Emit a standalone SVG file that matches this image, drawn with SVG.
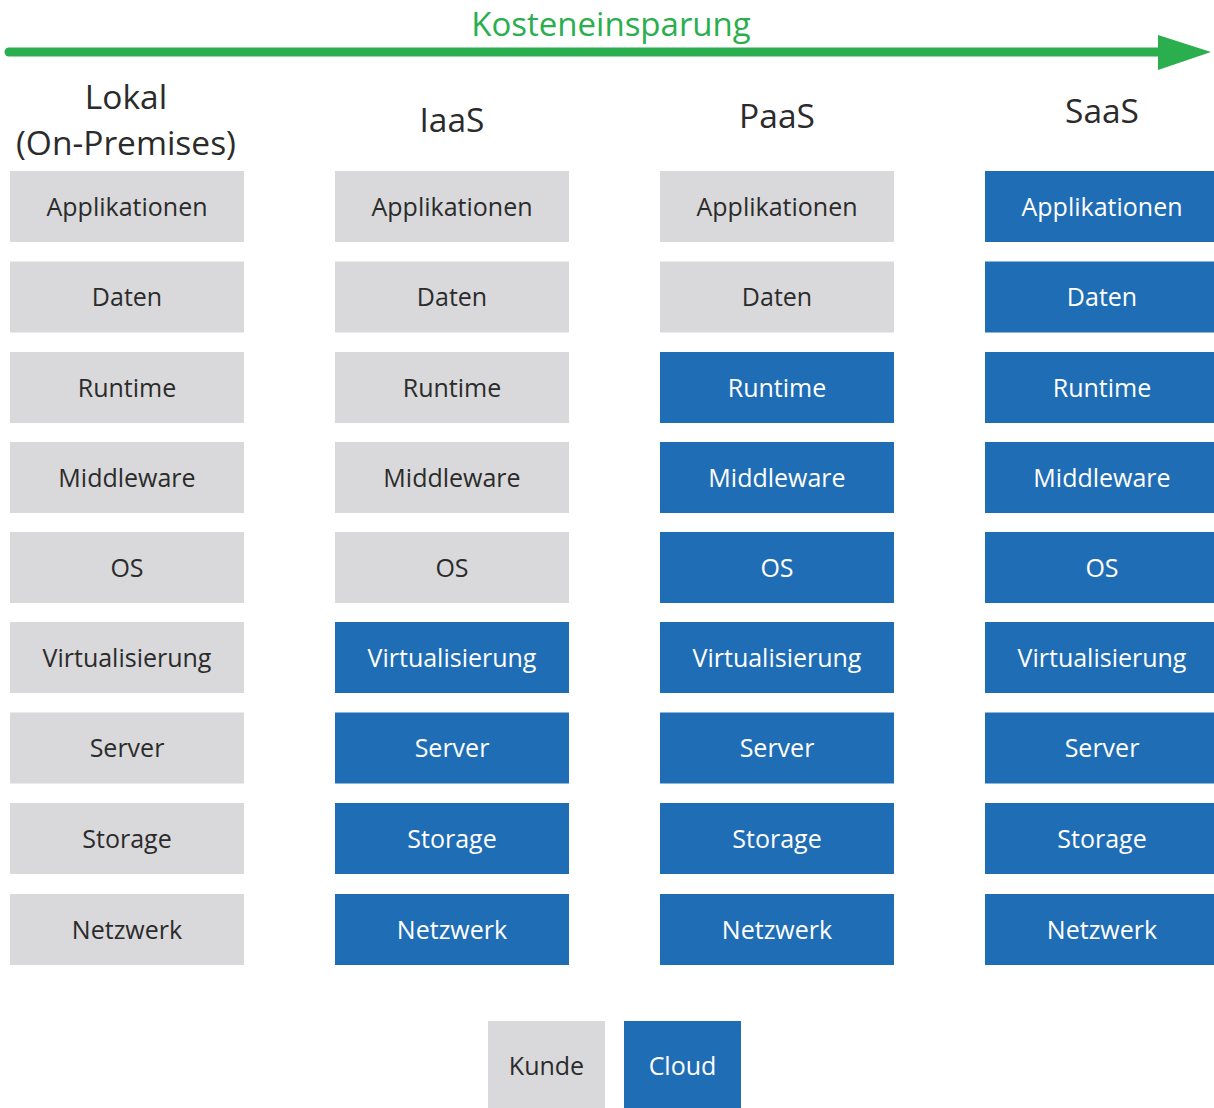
<svg xmlns="http://www.w3.org/2000/svg" width="1214" height="1108" viewBox="0 0 1214 1108">
  <style>
    .k { fill: #d9d9db; }
    .c { fill: #1f6db5; }
    .t { font-family: "Open Sans", "Liberation Sans", sans-serif; font-size: 25px; text-anchor: middle; dominant-baseline: central; }
    .tk { fill: #2b2b2b; }
    .tc { fill: #ffffff; }
    .h { font-family: "Open Sans", "Liberation Sans", sans-serif; font-size: 33.5px; fill: #2b2b2b; text-anchor: middle; }
  </style>
  <rect width="1214" height="1108" fill="#ffffff"/>

  <!-- cost saving axis -->
  <g id="axis">
    <line x1="9" y1="52" x2="1162" y2="52" stroke="#2aae4e" stroke-width="9" stroke-linecap="round"/>
    <polygon points="1158,35 1211,52 1158,70" fill="#2aae4e"/>
    <text x="611" y="36" font-family="Open Sans, Liberation Sans, sans-serif" font-size="33" fill="#2aae4e" text-anchor="middle">Kosteneinsparung</text>
  </g>

  <!-- column headers -->
  <g id="headers">
    <text class="h" x="126" y="109">Lokal</text>
    <text class="h" x="126" y="155">(On-Premises)</text>
    <text class="h" x="452" y="132">IaaS</text>
    <text class="h" x="777" y="128">PaaS</text>
    <text class="h" x="1102" y="123">SaaS</text>
  </g>

  <!-- Lokal (On-Premises) -->
  <g id="col-lokal">
    <g id="lokal-applikationen"><rect class="k" x="10" y="171" width="234" height="71"/><text class="t tk" x="127" y="205.5">Applikationen</text></g>
    <g id="lokal-daten"><rect class="k" x="10" y="261.5" width="234" height="71"/><text class="t tk" x="127" y="296">Daten</text></g>
    <g id="lokal-runtime"><rect class="k" x="10" y="352" width="234" height="71"/><text class="t tk" x="127" y="386.5">Runtime</text></g>
    <g id="lokal-middleware"><rect class="k" x="10" y="442" width="234" height="71"/><text class="t tk" x="127" y="476.5">Middleware</text></g>
    <g id="lokal-os"><rect class="k" x="10" y="532" width="234" height="71"/><text class="t tk" x="127" y="566.5">OS</text></g>
    <g id="lokal-virtualisierung"><rect class="k" x="10" y="622" width="234" height="71"/><text class="t tk" x="127" y="656.5">Virtualisierung</text></g>
    <g id="lokal-server"><rect class="k" x="10" y="712.5" width="234" height="71"/><text class="t tk" x="127" y="747">Server</text></g>
    <g id="lokal-storage"><rect class="k" x="10" y="803" width="234" height="71"/><text class="t tk" x="127" y="837.5">Storage</text></g>
    <g id="lokal-netzwerk"><rect class="k" x="10" y="894" width="234" height="71"/><text class="t tk" x="127" y="928.5">Netzwerk</text></g>
  </g>

  <!-- IaaS -->
  <g id="col-iaas">
    <g id="iaas-applikationen"><rect class="k" x="335" y="171" width="234" height="71"/><text class="t tk" x="452" y="205.5">Applikationen</text></g>
    <g id="iaas-daten"><rect class="k" x="335" y="261.5" width="234" height="71"/><text class="t tk" x="452" y="296">Daten</text></g>
    <g id="iaas-runtime"><rect class="k" x="335" y="352" width="234" height="71"/><text class="t tk" x="452" y="386.5">Runtime</text></g>
    <g id="iaas-middleware"><rect class="k" x="335" y="442" width="234" height="71"/><text class="t tk" x="452" y="476.5">Middleware</text></g>
    <g id="iaas-os"><rect class="k" x="335" y="532" width="234" height="71"/><text class="t tk" x="452" y="566.5">OS</text></g>
    <g id="iaas-virtualisierung"><rect class="c" x="335" y="622" width="234" height="71"/><text class="t tc" x="452" y="656.5">Virtualisierung</text></g>
    <g id="iaas-server"><rect class="c" x="335" y="712.5" width="234" height="71"/><text class="t tc" x="452" y="747">Server</text></g>
    <g id="iaas-storage"><rect class="c" x="335" y="803" width="234" height="71"/><text class="t tc" x="452" y="837.5">Storage</text></g>
    <g id="iaas-netzwerk"><rect class="c" x="335" y="894" width="234" height="71"/><text class="t tc" x="452" y="928.5">Netzwerk</text></g>
  </g>

  <!-- PaaS -->
  <g id="col-paas">
    <g id="paas-applikationen"><rect class="k" x="660" y="171" width="234" height="71"/><text class="t tk" x="777" y="205.5">Applikationen</text></g>
    <g id="paas-daten"><rect class="k" x="660" y="261.5" width="234" height="71"/><text class="t tk" x="777" y="296">Daten</text></g>
    <g id="paas-runtime"><rect class="c" x="660" y="352" width="234" height="71"/><text class="t tc" x="777" y="386.5">Runtime</text></g>
    <g id="paas-middleware"><rect class="c" x="660" y="442" width="234" height="71"/><text class="t tc" x="777" y="476.5">Middleware</text></g>
    <g id="paas-os"><rect class="c" x="660" y="532" width="234" height="71"/><text class="t tc" x="777" y="566.5">OS</text></g>
    <g id="paas-virtualisierung"><rect class="c" x="660" y="622" width="234" height="71"/><text class="t tc" x="777" y="656.5">Virtualisierung</text></g>
    <g id="paas-server"><rect class="c" x="660" y="712.5" width="234" height="71"/><text class="t tc" x="777" y="747">Server</text></g>
    <g id="paas-storage"><rect class="c" x="660" y="803" width="234" height="71"/><text class="t tc" x="777" y="837.5">Storage</text></g>
    <g id="paas-netzwerk"><rect class="c" x="660" y="894" width="234" height="71"/><text class="t tc" x="777" y="928.5">Netzwerk</text></g>
  </g>

  <!-- SaaS -->
  <g id="col-saas">
    <g id="saas-applikationen"><rect class="c" x="985" y="171" width="234" height="71"/><text class="t tc" x="1102" y="205.5">Applikationen</text></g>
    <g id="saas-daten"><rect class="c" x="985" y="261.5" width="234" height="71"/><text class="t tc" x="1102" y="296">Daten</text></g>
    <g id="saas-runtime"><rect class="c" x="985" y="352" width="234" height="71"/><text class="t tc" x="1102" y="386.5">Runtime</text></g>
    <g id="saas-middleware"><rect class="c" x="985" y="442" width="234" height="71"/><text class="t tc" x="1102" y="476.5">Middleware</text></g>
    <g id="saas-os"><rect class="c" x="985" y="532" width="234" height="71"/><text class="t tc" x="1102" y="566.5">OS</text></g>
    <g id="saas-virtualisierung"><rect class="c" x="985" y="622" width="234" height="71"/><text class="t tc" x="1102" y="656.5">Virtualisierung</text></g>
    <g id="saas-server"><rect class="c" x="985" y="712.5" width="234" height="71"/><text class="t tc" x="1102" y="747">Server</text></g>
    <g id="saas-storage"><rect class="c" x="985" y="803" width="234" height="71"/><text class="t tc" x="1102" y="837.5">Storage</text></g>
    <g id="saas-netzwerk"><rect class="c" x="985" y="894" width="234" height="71"/><text class="t tc" x="1102" y="928.5">Netzwerk</text></g>
  </g>

  <!-- legend -->
  <g id="legend-kunde"><rect class="k" x="488" y="1021" width="117" height="90"/><text class="t tk" x="546.5" y="1065">Kunde</text></g>
  <g id="legend-cloud"><rect class="c" x="624" y="1021" width="117" height="90"/><text class="t tc" x="682.5" y="1065">Cloud</text></g>

  <!-- no connectors between the stacked layers -->
  <g id="connectors"/>
</svg>
